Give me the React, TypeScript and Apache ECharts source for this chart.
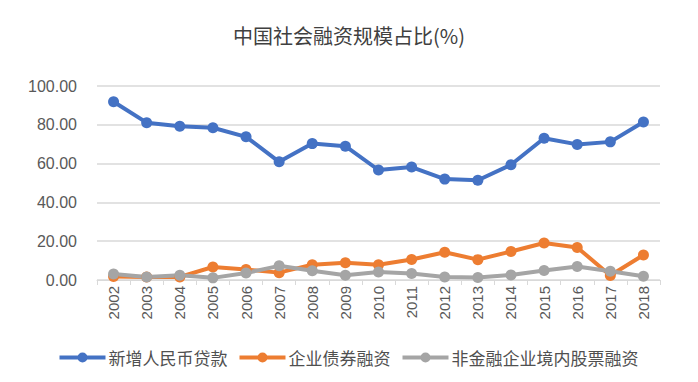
import React, { useEffect, useRef } from "react";
import * as echarts from "echarts";

const years = ["2002","2003","2004","2005","2006","2007","2008","2009","2010","2011","2012","2013","2014","2015","2016","2017","2018"];
const loans = [91.9, 81.1, 79.2, 78.5, 73.8, 60.9, 70.3, 69.0, 56.7, 58.2, 52.0, 51.4, 59.4, 73.1, 69.9, 71.2, 81.4];
const bonds = [1.8, 1.5, 1.6, 6.7, 5.4, 3.8, 7.9, 8.9, 7.9, 10.6, 14.3, 10.5, 14.7, 19.1, 16.8, 2.3, 12.9];
const equity = [3.1, 1.6, 2.4, 1.1, 3.6, 7.3, 4.8, 2.4, 4.1, 3.4, 1.6, 1.3, 2.6, 4.9, 7.0, 4.5, 1.9];
const seriesNames = ["新增人民币贷款", "企业债券融资", "非金融企业境内股票融资"];
const colors = ["#4472C4", "#ED7D31", "#A5A5A5"];

const legendIcon = "path://M0,3 H46 V7 H0 Z M23,0 A5,5 0 0 1 23,10 A5,5 0 0 1 23,0 Z";

export default function App() {
  const ref = useRef<HTMLDivElement>(null);
  useEffect(() => {
    if (!ref.current) return;
    const chart = echarts.init(ref.current, null, { renderer: "svg" });
    const mk = (name: string, data: number[], color: string) => ({
      name,
      type: "line",
      data,
      symbol: "circle",
      symbolSize: 11,
      lineStyle: { width: 4, color },
      itemStyle: { color },
    });
    chart.setOption({
      animation: false,
      backgroundColor: "#ffffff",
      title: {
        text: "中国社会融资规模占比(%)",
        left: "center",
        top: 20,
        textStyle: { fontFamily: "Noto Sans CJK SC", fontSize: 20, fontWeight: "normal", color: "#404040" },
      },
      legend: {
        bottom: 11,
        left: "center",
        itemWidth: 46,
        itemHeight: 10,
        itemGap: 12,
        icon: legendIcon,
        textStyle: { fontFamily: "Noto Sans CJK SC", fontSize: 17, color: "#505050", padding: [0, 0, 0, -2] },
        data: seriesNames,
      },
      grid: { left: 97, right: 38, top: 86, bottom: 102 },
      xAxis: {
        type: "category",
        data: years,
        boundaryGap: true,
        axisLine: { lineStyle: { color: "#D9D9D9" } },
        axisTick: { show: true, length: 5, lineStyle: { color: "#D9D9D9" } },
        axisLabel: { rotate: 90, color: "#595959", fontSize: 15, fontFamily: "Liberation Sans", margin: 6 },
      },
      yAxis: {
        type: "value",
        min: 0,
        max: 100,
        interval: 20,
        axisLine: { show: false },
        axisTick: { show: false },
        splitLine: { lineStyle: { color: "#D9D9D9", width: 1.5 } },
        axisLabel: {
          color: "#595959",
          fontSize: 16,
          fontFamily: "Liberation Sans",
          margin: 20,
          formatter: (v: number) => v.toFixed(2),
        },
      },
      series: [
        mk(seriesNames[0], loans, colors[0]),
        mk(seriesNames[1], bonds, colors[1]),
        mk(seriesNames[2], equity, colors[2]),
      ],
    });
    return () => chart.dispose();
  }, []);
  return <div ref={ref} style={{ width: 698, height: 382, position: "absolute", left: 0, top: 0 }} />;
}
